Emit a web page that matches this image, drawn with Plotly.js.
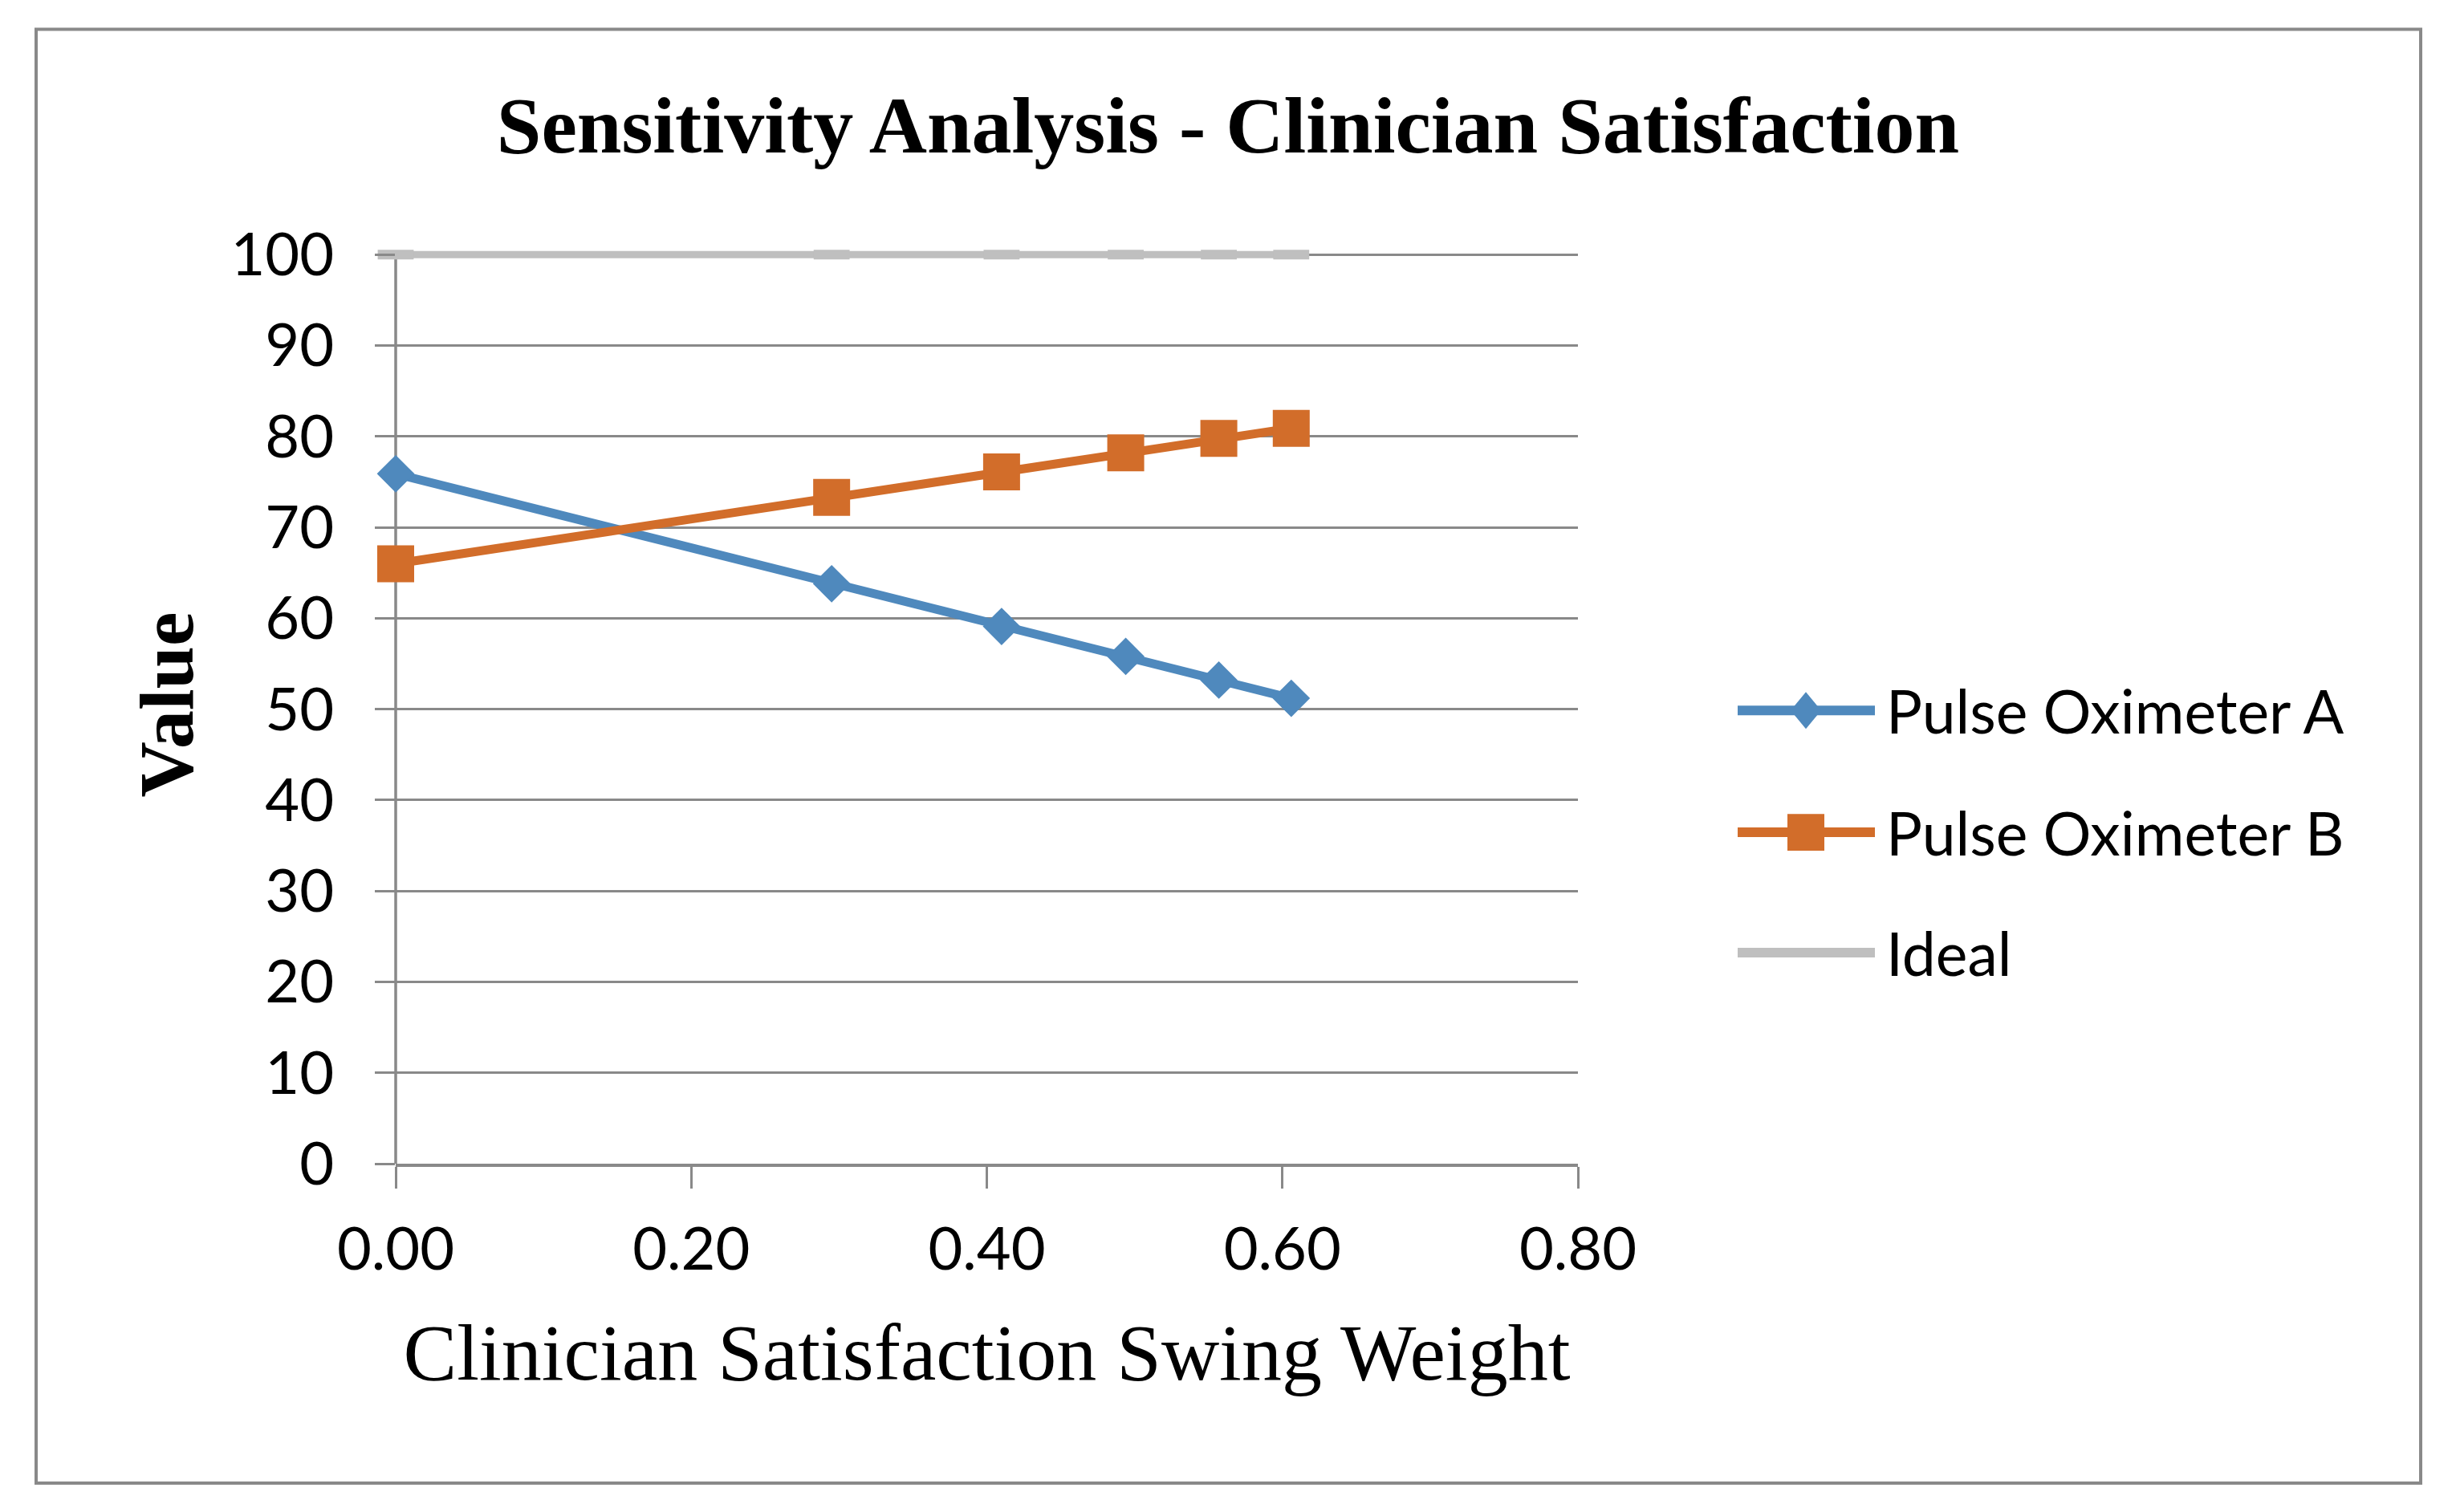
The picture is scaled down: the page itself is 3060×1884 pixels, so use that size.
<!DOCTYPE html>
<html>
<head>
<meta charset="utf-8">
<script src="https://cdn.plot.ly/plotly-3.0.1.min.js"></script>
<style>html,body{margin:0;padding:0;background:#fff;}#chart{width:3060px;height:1884px;}</style>
</head>
<body>
<div id="chart"></div>
<script>
// ---- data ----
const swingWeight = [0.000, 0.295, 0.410, 0.494, 0.557, 0.606];
const pulseOximeterA = [75.9, 63.8, 59.1, 55.8, 53.2, 51.2];
const pulseOximeterB = [66.0, 73.3, 76.1, 78.2, 79.8, 80.9];
const ideal = [100, 100, 100, 100, 100, 100];
const seriesNames = ['Pulse Oximeter A', 'Pulse Oximeter B', 'Ideal'];
const xTickVals = [0, 0.2, 0.4, 0.6, 0.8];
const yTickVals = [0, 10, 20, 30, 40, 50, 60, 70, 80, 90, 100];

// ---- styles ----
const W = 3060, H = 1884;
const yTop = 101;                      // small headroom so the Ideal line at 100 is not clipped
const L = 493, R = 1966, B = 1450, T100 = 317;
const T = B - (B - T100) * yTop / 100; // pixel of plot-area top
const colA = '#4F89BD', colB = '#D26D2A', colI = '#BFBFBF', gridCol = '#898989';
const px = v => (v - L) / (R - L);
const py = v => (B - v) / (B - T);

const traces = [
  {x: swingWeight, y: pulseOximeterA, name: seriesNames[0], mode: 'lines+markers', cliponaxis: false,
   line: {color: colA, width: 11}, marker: {symbol: 'diamond', size: 36, color: colA, line: {width: 0}}},
  {x: swingWeight, y: pulseOximeterB, name: seriesNames[1], mode: 'lines+markers', cliponaxis: false,
   line: {color: colB, width: 11}, marker: {symbol: 'square', size: 46, color: colB, line: {width: 0}}},
  {x: swingWeight, y: ideal, name: seriesNames[2], mode: 'lines+markers', cliponaxis: false,
   line: {color: colI, width: 9}, marker: {symbol: 'line-ew', size: 32, color: colI, line: {color: colI, width: 12}}}
];

// custom legend (long line samples like the original)
const legRows = [885, 1037, 1187];
const legX0 = 2165, legX1 = 2336, legMid = 2250, legText = 2348;
const shapes = [
  {type: 'rect', xref: 'paper', yref: 'paper', x0: px(45), x1: px(3016), y0: py(36), y1: py(1848),
   line: {color: gridCol, width: 4}, fillcolor: 'rgba(0,0,0,0)', layer: 'below'},
  // vertical value-axis line, from 0 to 100 only (paper refs so it is not clipped at the plot edge)
  {type: 'line', xref: 'paper', yref: 'paper', x0: 0, x1: 0, y0: 0, y1: py(T100), line: {color: gridCol, width: 3.5}, layer: 'between'}
];
const legendCols = [colA, colB, colI];
legRows.forEach((yy, i) => {
  shapes.push({type: 'line', xref: 'paper', yref: 'paper', x0: px(legX0), x1: px(legX1), y0: py(yy), y1: py(yy),
    line: {color: legendCols[i], width: 12}});
});
// diamond sample
shapes.push({type: 'path', xref: 'paper', yref: 'paper',
  path: `M ${px(legMid)} ${py(legRows[0] - 23)} L ${px(legMid + 19)} ${py(legRows[0])} L ${px(legMid)} ${py(legRows[0] + 23)} L ${px(legMid - 19)} ${py(legRows[0])} Z`,
  fillcolor: colA, line: {width: 0}});
// square sample
shapes.push({type: 'rect', xref: 'paper', yref: 'paper', x0: px(legMid - 23), x1: px(legMid + 23),
  y0: py(legRows[1] + 23), y1: py(legRows[1] - 23), fillcolor: colB, line: {width: 0}});

const annotations = seriesNames.map((n, i) => ({
  text: n, xref: 'paper', yref: 'paper', x: px(legText), y: py(legRows[i]), xanchor: 'left', yanchor: 'middle',
  showarrow: false, font: {family: 'Lato', size: 75, color: '#000'}
}));

const layout = {
  width: W, height: H,
  paper_bgcolor: '#fff', plot_bgcolor: '#fff',
  margin: {l: L, r: W - R, t: T, b: H - B, autoexpand: false},
  showlegend: false,
  title: {text: '<b>Sensitivity Analysis - Clinician Satisfaction</b>', xref: 'paper', x: px(1530), xanchor: 'center',
          yref: 'container', y: 1 - 155 / H, yanchor: 'middle',
          font: {family: 'Liberation Serif', size: 100, color: '#000'}},
  xaxis: {range: [0, 0.8], tickvals: xTickVals, tickformat: '.2f', showgrid: false, zeroline: false,
          showline: true, linecolor: gridCol, linewidth: 3.5, ticks: 'outside', ticklen: 27, tickwidth: 3, tickcolor: gridCol,
          tickfont: {family: 'Lato', size: 74, color: '#000'}, ticklabelstandoff: 13,
          title: {text: 'Clinician Satisfaction Swing Weight', font: {family: 'Liberation Serif', size: 100, color: '#000'}, standoff: 52}},
  yaxis: {range: [0, yTop], tickvals: yTickVals, showgrid: true, gridcolor: gridCol, gridwidth: 3, zeroline: false,
          showline: false, ticks: 'outside', ticklen: 25, tickwidth: 3, tickcolor: gridCol,
          tickfont: {family: 'Lato', size: 74, color: '#000'}, ticklabelstandoff: 36,
          title: {text: '<b>Value</b>', font: {family: 'Liberation Serif', size: 96, color: '#000'}, standoff: 14}},
  shapes: shapes,
  annotations: annotations
};

Plotly.newPlot('chart', traces, layout, {displayModeBar: false, staticPlot: true});
</script>
</body>
</html>
